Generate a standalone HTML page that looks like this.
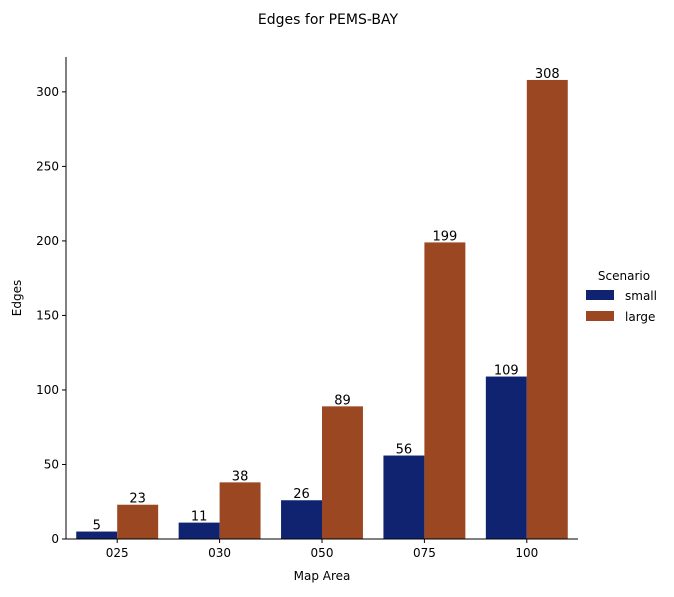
<!DOCTYPE html>
<html><head><meta charset="utf-8"><style>
body{margin:0;background:#fff;font-family:"Liberation Sans","DejaVu Sans",sans-serif;}
svg text{font-family:"DejaVu Sans","Liberation Sans",sans-serif;}
</style></head><body>
<svg id="chart" width="674" height="592" xmlns="http://www.w3.org/2000/svg">
<text x="328" y="24" text-anchor="middle" font-size="14">Edges for PEMS-BAY</text>
<g id="plot"></g>
<text x="322" y="580" text-anchor="middle" font-size="12">Map Area</text>
<text x="21" y="298" text-anchor="middle" font-size="12" transform="rotate(-90 21 298)">Edges</text>
<g>
<text x="624" y="280" text-anchor="middle" font-size="12">Scenario</text>
<rect x="586" y="290" width="28" height="10" fill="#0f2370"/>
<text x="625" y="300" font-size="12">small</text>
<rect x="586" y="311" width="28" height="10" fill="#9b4721"/>
<text x="625" y="321" font-size="12">large</text>
</g>
</svg>
<script>
const categories = ["025","030","050","075","100"];
const smallValues = [5,11,26,56,109];
const largeValues = [23,38,89,199,308];
const yTicks = [0,50,100,150,200,250,300];

const NS="http://www.w3.org/2000/svg";
const L=66,R=578,T=57,B=539,YMAX=323.4;
const y=v=>B-(v/YMAX)*(B-T);
const band=(R-L)/categories.length;
const xc=i=>L+band*(i+0.5);
const g=document.getElementById('plot');
function mk(tag,attrs){const e=document.createElementNS(NS,tag);for(const k in attrs)e.setAttribute(k,attrs[k]);g.appendChild(e);return e;}
const bw=band*0.8/2;
const series=[[smallValues,"#0f2370","small"],[largeValues,"#9b4721","large"]];
series.forEach(([vals,col,nm],s)=>{
  vals.forEach((v,i)=>{
    const x=xc(i)-bw+s*bw;
    const r=mk('rect',{x:x,y:y(v),width:bw,height:B-y(v),fill:col});
    
    
    const t=mk('text',{x:x+bw/2,y:y(v)-2,'text-anchor':'middle','font-size':13});
    t.textContent=v;
    
    
  });
});
const ax=mk('line',{x1:L,y1:T,x2:L,y2:B,stroke:'#000','stroke-width':1});


const bx=mk('line',{x1:L,y1:B,x2:R,y2:B,stroke:'#000','stroke-width':1});


yTicks.forEach(v=>{
  mk('line',{x1:L-4,y1:y(v),x2:L,y2:y(v),stroke:'#000'});
  const t=mk('text',{x:L-7,y:y(v)+4,'text-anchor':'end','font-size':12});
  t.textContent=v;
  
  
});
categories.forEach((c,i)=>{
  mk('line',{x1:xc(i),y1:B,x2:xc(i),y2:B+4,stroke:'#000'});
  const t=mk('text',{x:xc(i),y:B+18,'text-anchor':'middle','font-size':12});
  t.textContent=c;
  
  
});
</script>
</body></html>
